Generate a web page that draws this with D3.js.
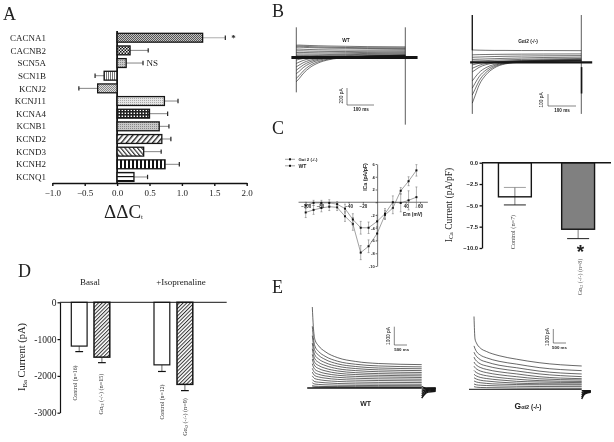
<!DOCTYPE html>
<html>
<head>
<meta charset="utf-8">
<script src="https://cdnjs.cloudflare.com/ajax/libs/d3/7.8.5/d3.min.js"></script>
<style>
  html, body { margin: 0; padding: 0; background: #fff; }
  svg { display: block; background: #fff; filter: blur(0.3px); }
  text { fill: #222; }
  .serif { font-family: "Liberation Serif", serif; }
  .sans { font-family: "Liberation Sans", sans-serif; }
  .domain, .tick line { stroke: #111; }
</style>
</head>
<body>
<div id="chart"></div>
<script>
// panel A
const genes = ["CACNA1", "CACNB2", "SCN5A", "SCN1B", "KCNJ2", "KCNJ11", "KCNA4", "KCNB1", "KCND2", "KCND3", "KCNH2", "KCNQ1"];
const ddct = [1.32, 0.2, 0.14, -0.2, -0.3, 0.73, 0.5, 0.65, 0.69, 0.41, 0.74, 0.26];
const ddctErr = [1.67, 0.48, 0.4, -0.34, -0.59, 0.94, 0.78, 0.8, 0.83, 0.68, 0.96, 0.47];
const genePatterns = ["checkDark", "checkBig", "dotsGrey", "vertFine", "checkGrey", "dotsLight", "grid", "dotsGrey", "diagRight", "diagLeft", "vertThick", "horiz"];
const ddctTicks = [-1, -0.5, 0, 0.5, 1, 1.5, 2];

// panel B, pA against ms
const bTimes = [0, 10, 25, 50, 80, 120, 180, 260, 400];
const bWt = [
  [145, 146, 144, 141, 138, 135, 132, 128, 125],
  [132, 134, 132, 128, 124, 121, 118, 115, 113],
  [120, 122, 120, 116, 113, 110, 108, 106, 104],
  [98, 99, 97, 94, 91, 89, 87, 88, 92],
  [78, 79, 78, 75, 73, 71, 70, 74, 78],
  [58, 60, 59, 57, 55, 54, 56, 60, 66],
  [40, 42, 41, 40, 39, 38, 42, 48, 55],
  [24, 26, 25, 25, 24, 28, 32, 38, 44],
  [12, 13, 13, 12, 14, 18, 22, 28, 34],
  [-30, -22, -12, -4, 0, 6, 12, 18, 24],
  [-70, -55, -35, -15, -4, 3, 7, 12, 16],
  [-110, -90, -62, -32, -12, 0, 8, 13, 16],
  [-150, -125, -90, -50, -22, -4, 8, 15, 20],
  [-190, -165, -120, -70, -34, -10, 6, 16, 23],
  [-245, -215, -160, -95, -50, -18, 2, 16, 26],
  [-285, -250, -190, -118, -65, -26, -2, 14, 28]
];
const bKo = [
  [103, 102, 101, 100, 99, 99, 98, 98, 97],
  [62, 63, 64, 65, 66, 67, 68, 69, 70],
  [42, 43, 44, 46, 48, 50, 52, 54, 56],
  [24, 25, 26, 28, 30, 33, 36, 40, 43],
  [10, 11, 12, 14, 17, 20, 24, 28, 32],
  [-22, -16, -8, 0, 5, 10, 15, 20, 25],
  [-50, -40, -25, -10, 0, 7, 12, 17, 21],
  [-80, -65, -42, -20, -6, 3, 9, 14, 18],
  [-155, -125, -85, -45, -18, -2, 7, 12, 16],
  [-215, -175, -120, -65, -28, -6, 5, 10, 14],
  [-272, -225, -155, -85, -38, -10, 3, 8, 12],
  [-340, -280, -190, -105, -48, -14, 1, 7, 10]
];

// panel C, I-V curves
const ivMv = [-100, -89, -78, -67, -56, -45, -34, -23, -12, 0, 11, 22, 33, 44, 55];
const ivUpper = [-1.6, -1.2, -0.9, -0.7, -0.8, -2.2, -3.4, -7.9, -6.9, -4.9, -2, -0.9, 1.8, 3.3, 5];
const ivUpperErr = [0.8, 0.7, 0.6, 0.6, 0.5, 0.8, 1, 1.1, 1, 1.1, 0.7, 0.9, 0.5, 0.7, 0.9];
const ivLower = [-0.5, -0.1, -0.1, -0.1, -0.3, -1, -2.7, -4, -4, -3, -1.8, 0, -0.1, 0.3, 0.8];
const ivLowerErr = [0.5, 0.4, 0.4, 0.5, 0.4, 0.7, 0.9, 1, 0.9, 1, 0.8, 1, 1.4, 1.5, 1.6];
const ivXTicks = [-100, -80, -40, -20, 40, 60];
const ivYTicks = [6, 4, 2, 0, -2, -4, -6, -8, -10];

const icaGroups = ["Control (n=7)", "KO (n=8)"];
const icaValues = [-4, -7.8];
const icaErrLow = [-4.95, -8.9];
const icaErrHigh = [-2.9, -7.8];
const icaTicks = [0, -2.5, -5, -7.5, -10];

// panel D
const ibaGroups = ["Control (n=16)", "KO (n=15)", "Control (n=12)", "KO (n=9)"];
const ibaValues = [-1190, -1490, -1700, -2230];
const ibaErr = [-1340, -1640, -1880, -2400];
const ibaTicks = [0, -1000, -2000, -3000];

// panel E, pA against ms
const eTimes = [0, 40, 100, 250, 500, 1000, 1700, 2600, 4300];
const eWt = [
  [4330, 3300, 2600, 2250, 1950, 1620, 1420, 1310, 1250],
  [3300, 2700, 2250, 1950, 1700, 1430, 1270, 1180, 1130],
  [2800, 2350, 2000, 1750, 1530, 1290, 1150, 1070, 1030],
  [2400, 2050, 1770, 1550, 1360, 1160, 1040, 970, 930],
  [2100, 1800, 1560, 1370, 1210, 1030, 930, 870, 830],
  [1800, 1560, 1360, 1200, 1060, 910, 820, 770, 740],
  [1550, 1350, 1180, 1040, 920, 790, 720, 680, 650],
  [1300, 1130, 1000, 880, 780, 680, 620, 590, 560],
  [1050, 930, 820, 730, 650, 570, 520, 490, 470],
  [850, 750, 660, 590, 530, 460, 420, 400, 380],
  [650, 570, 500, 450, 400, 350, 320, 300, 290],
  [450, 390, 340, 310, 280, 240, 220, 210, 200],
  [280, 240, 210, 190, 170, 150, 140, 130, 125],
  [140, 120, 100, 90, 80, 75, 70, 65, 60],
  [70, 60, 50, 45, 40, 38, 35, 33, 30]
];
const eKo = [
  [5200, 3600, 3300, 2950, 2700, 2400, 2150, 1900, 1665],
  [3100, 2900, 2700, 2450, 2250, 2000, 1800, 1550, 1335],
  [2650, 2500, 2350, 2120, 1950, 1720, 1540, 1300, 1095],
  [2300, 2150, 2020, 1820, 1670, 1480, 1310, 1100, 905],
  [1950, 1830, 1720, 1560, 1420, 1250, 1100, 900, 760],
  [1650, 1550, 1450, 1310, 1190, 1040, 900, 750, 665],
  [1350, 1270, 1190, 1070, 970, 840, 720, 620, 560],
  [1080, 1010, 950, 850, 770, 670, 570, 520, 480],
  [830, 780, 730, 650, 590, 510, 440, 400, 380],
  [600, 560, 520, 470, 420, 370, 340, 320, 310],
  [380, 350, 320, 290, 270, 240, 220, 200, 190],
  [190, 170, 150, 130, 120, 110, 90, 80, 70]
];
const tailTimesWt = [4300, 4400, 4550, 4850];
const tailTimesKo = [4300, 4360, 4450, 4660];
const tailWt = [[80, 20, 5, 0], [-60, -40, -20, -10], [-180, -120, -70, -40], [-300, -200, -120, -80], [-420, -280, -170, -120], [-540, -360, -220, -170]];
const tailKo = [[-100, -100, -100, -100], [-250, -190, -150, -120], [-400, -290, -210, -150], [-550, -380, -260, -180], [-700, -470, -310, -210]];

const width = 614;
const height = 442;
const ink = "#151515";

const svg = d3.select("#chart").append("svg")
  .attr("width", width)
  .attr("height", height)
  .attr("viewBox", `0 0 ${width} ${height}`);

// hatch fills for the bars
const defs = svg.append("defs");

function addPattern(id, size, bg, draw, rotate) {
  const p = defs.append("pattern")
    .attr("id", id)
    .attr("patternUnits", "userSpaceOnUse")
    .attr("width", size)
    .attr("height", size);
  if (rotate) p.attr("patternTransform", `rotate(${rotate})`);
  p.append("rect").attr("width", size).attr("height", size).attr("fill", bg);
  draw(p);
}

function block(p, x, y, w, h, fill) {
  p.append("rect").attr("x", x).attr("y", y).attr("width", w).attr("height", h).attr("fill", fill);
}

addPattern("checkDark", 2, "#c4c4c4", p => { block(p, 0, 0, 1, 1, "#555"); block(p, 1, 1, 1, 1, "#555"); });
addPattern("checkBig", 3, "#eee", p => { block(p, 0, 0, 1.5, 1.5, "#111"); block(p, 1.5, 1.5, 1.5, 1.5, "#111"); });
addPattern("checkGrey", 2, "#ddd", p => { block(p, 0, 0, 1, 1, "#888"); block(p, 1, 1, 1, 1, "#888"); });
addPattern("dotsGrey", 2, "#c8c8c8", p => { block(p, 0, 0, 1, 1, "#888"); });
addPattern("dotsLight", 2, "#e6e6e6", p => { block(p, 0, 0, 1, 1, "#aaa"); });
addPattern("vertFine", 2, "#fff", p => { block(p, 0, 0, 1, 2, "#777"); });
addPattern("grid", 3, "#fff", p => { block(p, 0, 0, 1.6, 3, "#222"); block(p, 0, 0, 3, 1.6, "#222"); });
addPattern("diagRight", 4, "#fff", p => { block(p, 0, 0, 1.4, 4, "#222"); }, 40);
addPattern("diagLeft", 3.2, "#fff", p => { block(p, 0, 0, 1.2, 3.2, "#333"); }, -40);
addPattern("vertThick", 4, "#fff", p => { block(p, 0, 0, 2, 4, "#111"); });
addPattern("horiz", 4, "#fff", p => { block(p, 0, 0, 4, 1.2, "#111"); });
addPattern("hatchD", 2.6, "#fff", p => { block(p, 0, 0, 1, 2.6, "#333"); }, 45);

function letter(txt, x, y) {
  svg.append("text").attr("class", "serif").attr("x", x).attr("y", y)
    .attr("font-size", 18).text(txt);
}

// rotated reading bottom to top, centred on x,y; parts are [text, subscript?]
function rotated(parts, x, y, size, cls, color) {
  const t = svg.append("text").attr("class", cls)
    .attr("transform", `translate(${x},${y}) rotate(-90)`)
    .attr("text-anchor", "middle")
    .attr("dominant-baseline", "middle")
    .attr("font-size", size)
    .style("fill", color || "#222");
  parts.forEach(part => {
    const sp = t.append("tspan").text(part[0]);
    if (part[1]) sp.attr("font-size", size * 0.65).attr("dy", size * 0.2);
    else sp.attr("dy", t.selectAll("tspan").size() > 1 ? -size * 0.2 : 0);
  });
  return t;
}

function styleAxis(g, weight, size, cls, bold) {
  g.selectAll(".domain").attr("stroke-width", weight);
  g.selectAll(".tick line").attr("stroke-width", weight);
  g.selectAll("text").attr("class", cls).attr("font-size", size)
    .attr("font-weight", bold ? "bold" : "normal");
}

// panel A ------------------------------------------------------------
function drawA() {
  letter("A", 3, 20);
  const x = d3.scaleLinear().domain([-1, 2]).range([52.3, 246.7]);
  const y = d3.scaleBand().domain(genes).range([31.4, 183.3]).paddingInner(0.3).paddingOuter(0.15);
  const mid = g => y(g) + y.bandwidth() / 2;
  const zero = x(0);

  const axis = svg.append("g").attr("transform", "translate(0,183)")
    .call(d3.axisBottom(x).tickValues(ddctTicks).tickFormat(d3.format(".1f")).tickSize(3).tickSizeOuter(0).tickPadding(4));
  styleAxis(axis, 1.4, 9, "serif");

  svg.append("line").attr("x1", zero).attr("x2", zero).attr("y1", 31).attr("y2", 183)
    .attr("stroke", ink).attr("stroke-width", 1.8);

  svg.append("g").selectAll("text").data(genes).join("text")
    .attr("class", "serif").attr("font-size", 9)
    .attr("x", 46).attr("y", d => mid(d)).attr("dy", "0.35em")
    .attr("text-anchor", "end").text(d => d);

  // error bars sit under the bars
  const errs = svg.append("g");
  errs.selectAll("line.stem").data(genes).join("line").attr("class", "stem")
    .attr("x1", (d, i) => x(ddct[i])).attr("x2", (d, i) => x(ddctErr[i]))
    .attr("y1", d => mid(d)).attr("y2", d => mid(d))
    .attr("stroke", (d, i) => i === 0 ? "#bbb" : "#666").attr("stroke-width", (d, i) => i === 0 ? 1.2 : 0.8);
  errs.selectAll("line.cap").data(genes).join("line").attr("class", "cap")
    .attr("x1", (d, i) => x(ddctErr[i])).attr("x2", (d, i) => x(ddctErr[i]))
    .attr("y1", d => mid(d) - 2.2).attr("y2", d => mid(d) + 2.2)
    .attr("stroke", "#222").attr("stroke-width", 1.2);

  svg.append("g").selectAll("rect").data(genes).join("rect")
    .attr("x", (d, i) => Math.min(x(ddct[i]), zero))
    .attr("width", (d, i) => Math.abs(x(ddct[i]) - zero))
    .attr("y", d => y(d)).attr("height", y.bandwidth())
    .attr("fill", (d, i) => `url(#${genePatterns[i]})`)
    .attr("stroke", ink).attr("stroke-width", 1.3);

  svg.append("text").attr("class", "serif").attr("x", 233.5).attr("y", 41)
    .attr("text-anchor", "middle").attr("font-size", 9).attr("font-weight", "bold").text("*");
  svg.append("text").attr("class", "serif").attr("x", 146.5).attr("y", 66)
    .attr("font-size", 9).text("NS");

  const title = svg.append("text").attr("class", "serif").attr("x", 104).attr("y", 218).attr("font-size", 19);
  title.append("tspan").text("ΔΔC");
  title.append("tspan").attr("font-size", 7).attr("dy", 1).text("t");
}

// one set of current traces through the panel's own scales
function drawTraces(cfg) {
  const x = d3.scaleLinear().domain(cfg.xDomain).range(cfg.xRange);
  const y = d3.scaleLinear().domain([0, 100]).range([cfg.base, cfg.base - cfg.pxPer100]);
  const line = d3.line().x(d => x(d[0])).y(d => y(d[1])).curve(d3.curveMonotoneX);
  const g = svg.append("g").attr("fill", "none").attr("stroke", ink);

  cfg.traces.forEach(tr => {
    g.append("path").attr("stroke-width", cfg.weight)
      .attr("d", line(cfg.times.map((t, i) => [t, tr[i]])));
  });
  (cfg.tails || []).forEach(tr => {
    g.append("path").attr("stroke-width", 1.4)
      .attr("d", line(cfg.tailTimes.map((t, i) => [t, tr[i]])));
  });

  // thick holding line
  g.append("line").attr("x1", x(cfg.hold[0])).attr("x2", x(cfg.hold[1]))
    .attr("y1", cfg.base).attr("y2", cfg.base).attr("stroke-width", cfg.holdWeight);

  // capacitive spikes at the voltage steps
  (cfg.spikes || []).forEach(s => {
    g.append("line").attr("x1", x(s[0])).attr("x2", x(s[0]))
      .attr("y1", y(s[1])).attr("y2", y(s[2])).attr("stroke-width", s[3] || 0.7);
  });
  return { x, y };
}

function scaleBar(xPos, top, bottom, right) {
  svg.append("path")
    .attr("d", d3.line()([[xPos, top], [xPos, bottom], [right, bottom]]))
    .attr("fill", "none").attr("stroke", "#333").attr("stroke-width", 0.6);
}

function smallLabel(txt, x, y, size) {
  svg.append("text").attr("class", "sans").attr("x", x).attr("y", y)
    .attr("text-anchor", "middle").attr("font-size", size).attr("font-weight", "bold").text(txt);
}

// panel B ------------------------------------------------------------
function drawB() {
  letter("B", 272, 17);
  drawTraces({
    times: bTimes, traces: bWt, xDomain: [0, 400], xRange: [296.3, 405.3],
    base: 57.5, pxPer100: 8.5, weight: 0.6, hold: [-18, 445], holdWeight: 3,
    spikes: [[0, 355, -410], [400, 355, -790]]
  });
  scaleBar(347, 88, 105, 374);
  rotated([["200 pA"]], 341.5, 96, 4.8, "sans");
  smallLabel("100 ms", 361, 111, 4.6);
  smallLabel("WT", 346, 41.5, 4.8);

  drawTraces({
    times: bTimes, traces: bKo, xDomain: [0, 400], xRange: [472.3, 581.3],
    base: 62.3, pxPer100: 12, weight: 0.6, hold: [-8, 440], holdWeight: 2.2,
    spikes: [[0, 394, -430], [400, 394, -430], [401, -40, -260, 1.6], [0, 394, 100, 1.2]]
  });
  scaleBar(548, 94, 106, 576);
  rotated([["100 pA"]], 542, 100, 4.8, "sans");
  smallLabel("100 ms", 562, 112, 4.6);
  smallLabel("Gαi2 (-/-)", 528, 43, 4.8);
}

// panel C ------------------------------------------------------------
function drawC() {
  letter("C", 272, 134);
  const x = d3.scaleLinear().domain([-100, 60]).range([305.7, 420]);
  const y = d3.scaleLinear().domain([-10, 6]).range([266, 164]);

  const xAxis = svg.append("g").attr("transform", `translate(0,${y(0)})`)
    .call(d3.axisBottom(x).tickValues(ivXTicks).tickFormat(d3.format("d")).tickSize(1.5).tickSizeOuter(0).tickPadding(1));
  styleAxis(xAxis, 0.6, 4.5, "sans", true);
  xAxis.select(".domain").attr("d", `M${x(-110)},0H${x(71)}`);

  const yAxis = svg.append("g").attr("transform", `translate(${x(0)},0)`)
    .call(d3.axisLeft(y).tickValues(ivYTicks).tickFormat(d => d === 0 ? "" : d).tickSize(1.5).tickSizeOuter(0).tickPadding(1));
  styleAxis(yAxis, 0.6, 4, "sans", true);

  [[ivUpper, ivUpperErr], [ivLower, ivLowerErr]].forEach(([vals, errs]) => {
    const g = svg.append("g");
    g.selectAll("line.err").data(ivMv).join("line").attr("class", "err")
      .attr("x1", d => x(d)).attr("x2", d => x(d))
      .attr("y1", (d, i) => y(vals[i] - errs[i])).attr("y2", (d, i) => y(vals[i] + errs[i]))
      .attr("stroke", "#666").attr("stroke-width", 0.5);
    g.selectAll("line.capTop").data(ivMv).join("line").attr("class", "capTop")
      .attr("x1", d => x(d) - 1).attr("x2", d => x(d) + 1)
      .attr("y1", (d, i) => y(vals[i] + errs[i])).attr("y2", (d, i) => y(vals[i] + errs[i]))
      .attr("stroke", "#666").attr("stroke-width", 0.5);
    g.selectAll("line.capBot").data(ivMv).join("line").attr("class", "capBot")
      .attr("x1", d => x(d) - 1).attr("x2", d => x(d) + 1)
      .attr("y1", (d, i) => y(vals[i] - errs[i])).attr("y2", (d, i) => y(vals[i] - errs[i]))
      .attr("stroke", "#666").attr("stroke-width", 0.5);
    g.append("path").datum(ivMv)
      .attr("d", d3.line().x(d => x(d)).y((d, i) => y(vals[i])))
      .attr("fill", "none").attr("stroke", "#444").attr("stroke-width", 0.5);
    g.selectAll("rect").data(ivMv).join("rect")
      .attr("x", d => x(d) - 1).attr("y", (d, i) => y(vals[i]) - 1)
      .attr("width", 2).attr("height", 2).attr("fill", "#111");
  });

  rotated([["ICa (pA/pF)"]], 366, 177, 5.2, "sans").attr("font-weight", "bold");
  svg.append("text").attr("class", "sans").attr("x", 403).attr("y", 216)
    .attr("font-size", 4.8).attr("font-weight", "bold").text("Em (mV)");

  // legend
  [["Gαi 2 (-/-)", 159.3, 4.3], ["WT", 165.8, 5]].forEach(([txt, ly, size]) => {
    svg.append("line").attr("x1", 285).attr("x2", 295).attr("y1", ly).attr("y2", ly)
      .attr("stroke", "#444").attr("stroke-width", 0.5);
    svg.append("rect").attr("x", 289).attr("y", ly - 1).attr("width", 2).attr("height", 2).attr("fill", "#111");
    svg.append("text").attr("class", "sans").attr("x", 298.5).attr("y", ly).attr("dy", "0.35em")
      .attr("font-size", size).attr("font-weight", "bold").text(txt);
  });

  // ICa bars
  const bx = d3.scaleBand().domain(icaGroups).range([482, 611]).paddingInner(0.48).paddingOuter(0.26);
  const by = d3.scaleLinear().domain([-10, 0]).range([248, 162.7]);
  const fills = ["#fff", "#808080"];

  const g = svg.append("g");
  g.selectAll("line.err").data(icaGroups).join("line").attr("class", "err")
    .attr("x1", d => bx(d) + bx.bandwidth() / 2).attr("x2", d => bx(d) + bx.bandwidth() / 2)
    .attr("y1", (d, i) => by(icaErrLow[i])).attr("y2", (d, i) => by(icaErrHigh[i]))
    .attr("stroke", "#444").attr("stroke-width", 0.7);
  [icaErrLow, icaErrHigh].forEach((ends, k) => {
    g.selectAll(`line.cap${k}`).data(icaGroups).join("line").attr("class", `cap${k}`)
      .attr("x1", d => bx(d) + bx.bandwidth() / 2 - 11).attr("x2", d => bx(d) + bx.bandwidth() / 2 + 11)
      .attr("y1", (d, i) => by(ends[i])).attr("y2", (d, i) => by(ends[i]))
      .attr("stroke", k === 0 ? "#222" : "#777").attr("stroke-width", k === 0 ? 1 : 0.7);
  });
  g.selectAll("rect").data(icaGroups).join("rect")
    .attr("x", d => bx(d)).attr("width", bx.bandwidth())
    .attr("y", by(0)).attr("height", (d, i) => by(icaValues[i]) - by(0))
    .attr("fill", (d, i) => i === 0 ? "none" : fills[i])
    .attr("stroke", ink).attr("stroke-width", 1.4);

  const axis = svg.append("g").attr("transform", "translate(482,0)")
    .call(d3.axisLeft(by).tickValues(icaTicks).tickFormat(d3.format(".1f")).tickSize(2.5).tickSizeOuter(0).tickPadding(1.5));
  styleAxis(axis, 1.3, 5.8, "sans", true);
  svg.append("line").attr("x1", 482).attr("x2", 611).attr("y1", by(0)).attr("y2", by(0))
    .attr("stroke", ink).attr("stroke-width", 1.4);

  rotated([["I"], ["Ca", true], [" Current (pA/pF)"]], 450, 205, 9.5, "serif");
  rotated([["Control (n=7)"]], 514, 232, 6.2, "serif", "#444");
  rotated([["Gα"], ["i2", true], [" (-/-) (n=8)"]], 580.5, 277, 6, "serif", "#555");
  svg.append("text").attr("class", "sans").attr("x", 580.5).attr("y", 258)
    .attr("text-anchor", "middle").attr("font-size", 19).attr("font-weight", "bold").text("*");
}

// panel D ------------------------------------------------------------
function drawD() {
  letter("D", 18, 277);
  const x = d3.scaleOrdinal().domain(ibaGroups).range([71.3, 94, 154, 177]);
  const barW = 15.8;
  const y = d3.scaleLinear().domain([-3000, 0]).range([412.7, 302.3]);
  const fills = ["#fff", "url(#hatchD)", "#fff", "url(#hatchD)"];

  const g = svg.append("g");
  g.selectAll("line.err").data(ibaGroups).join("line").attr("class", "err")
    .attr("x1", d => x(d) + barW / 2).attr("x2", d => x(d) + barW / 2)
    .attr("y1", (d, i) => y(ibaValues[i])).attr("y2", (d, i) => y(ibaErr[i]))
    .attr("stroke", "#444").attr("stroke-width", 0.8);
  g.selectAll("line.cap").data(ibaGroups).join("line").attr("class", "cap")
    .attr("x1", d => x(d) + 4).attr("x2", d => x(d) + barW - 4)
    .attr("y1", (d, i) => y(ibaErr[i])).attr("y2", (d, i) => y(ibaErr[i]))
    .attr("stroke", "#111").attr("stroke-width", 1.2);
  g.selectAll("rect").data(ibaGroups).join("rect")
    .attr("x", d => x(d)).attr("width", barW)
    .attr("y", y(0)).attr("height", (d, i) => y(ibaValues[i]) - y(0))
    .attr("fill", (d, i) => fills[i])
    .attr("stroke", ink).attr("stroke-width", (d, i) => i % 2 ? 1.5 : 1.2);

  const axis = svg.append("g").attr("transform", "translate(60,0)")
    .call(d3.axisLeft(y).tickValues(ibaTicks).tickFormat(d => d).tickSize(2.5).tickSizeOuter(0).tickPadding(1));
  styleAxis(axis, 1.2, 9.5, "serif");
  svg.append("line").attr("x1", 60).attr("x2", 226.7).attr("y1", y(0)).attr("y2", y(0))
    .attr("stroke", ink).attr("stroke-width", 1);

  rotated([["I"], ["Ba", true], [" Current (pA)"]], 23, 357, 10.5, "serif");
  [["Basal", 90], ["+Isoprenaline", 181]].forEach(([txt, tx]) => {
    svg.append("text").attr("class", "serif").attr("x", tx).attr("y", 285)
      .attr("text-anchor", "middle").attr("font-size", 9).text(txt);
  });
  rotated([["Control (n=16)"]], 76, 383, 5.8, "serif", "#333");
  rotated([["Gα"], ["i2", true], [" (-/-) (n=15)"]], 102, 394, 6.2, "serif", "#333");
  rotated([["Control (n=12)"]], 163, 402, 5.8, "serif", "#333");
  rotated([["Gα"], ["i2", true], [" (-/-) (n=9)"]], 186, 417, 6.2, "serif", "#333");
}

// panel E ------------------------------------------------------------
function drawE() {
  letter("E", 272, 293);
  drawTraces({
    times: eTimes, traces: eWt, xDomain: [0, 4300], xRange: [312.3, 421.7],
    base: 388, pxPer100: 1.87, weight: 0.65, hold: [-200, 4300], holdWeight: 1.6,
    tails: tailWt, tailTimes: tailTimesWt
  });
  scaleBar(394.3, 326.7, 345, 407);
  rotated([["1000 pA"]], 389, 336, 4.8, "sans");
  smallLabel("500 ms", 401.7, 350.5, 4.4);
  smallLabel("WT", 365.7, 405.5, 7);

  drawTraces({
    times: eTimes, traces: eKo, xDomain: [0, 4300], xRange: [474, 581.7],
    base: 389.3, pxPer100: 1.4, weight: 0.65, hold: [-200, 4300], holdWeight: 1,
    tails: tailKo, tailTimes: tailTimesKo
  });
  scaleBar(553.3, 329, 343, 566);
  rotated([["1000 pA"]], 548, 337, 4.8, "sans");
  smallLabel("500 ms", 559.5, 348.5, 4.4);

  const koTitle = svg.append("text").attr("class", "sans").attr("x", 528).attr("y", 408.5)
    .attr("text-anchor", "middle").attr("font-weight", "bold").attr("font-size", 6.5);
  koTitle.append("tspan").attr("font-size", 8.5).text("G");
  koTitle.append("tspan").attr("font-size", 5.5).text("αi2");
  koTitle.append("tspan").text(" (-/-)");
}

drawA();
drawB();
drawC();
drawD();
drawE();
</script>
</body>
</html>
